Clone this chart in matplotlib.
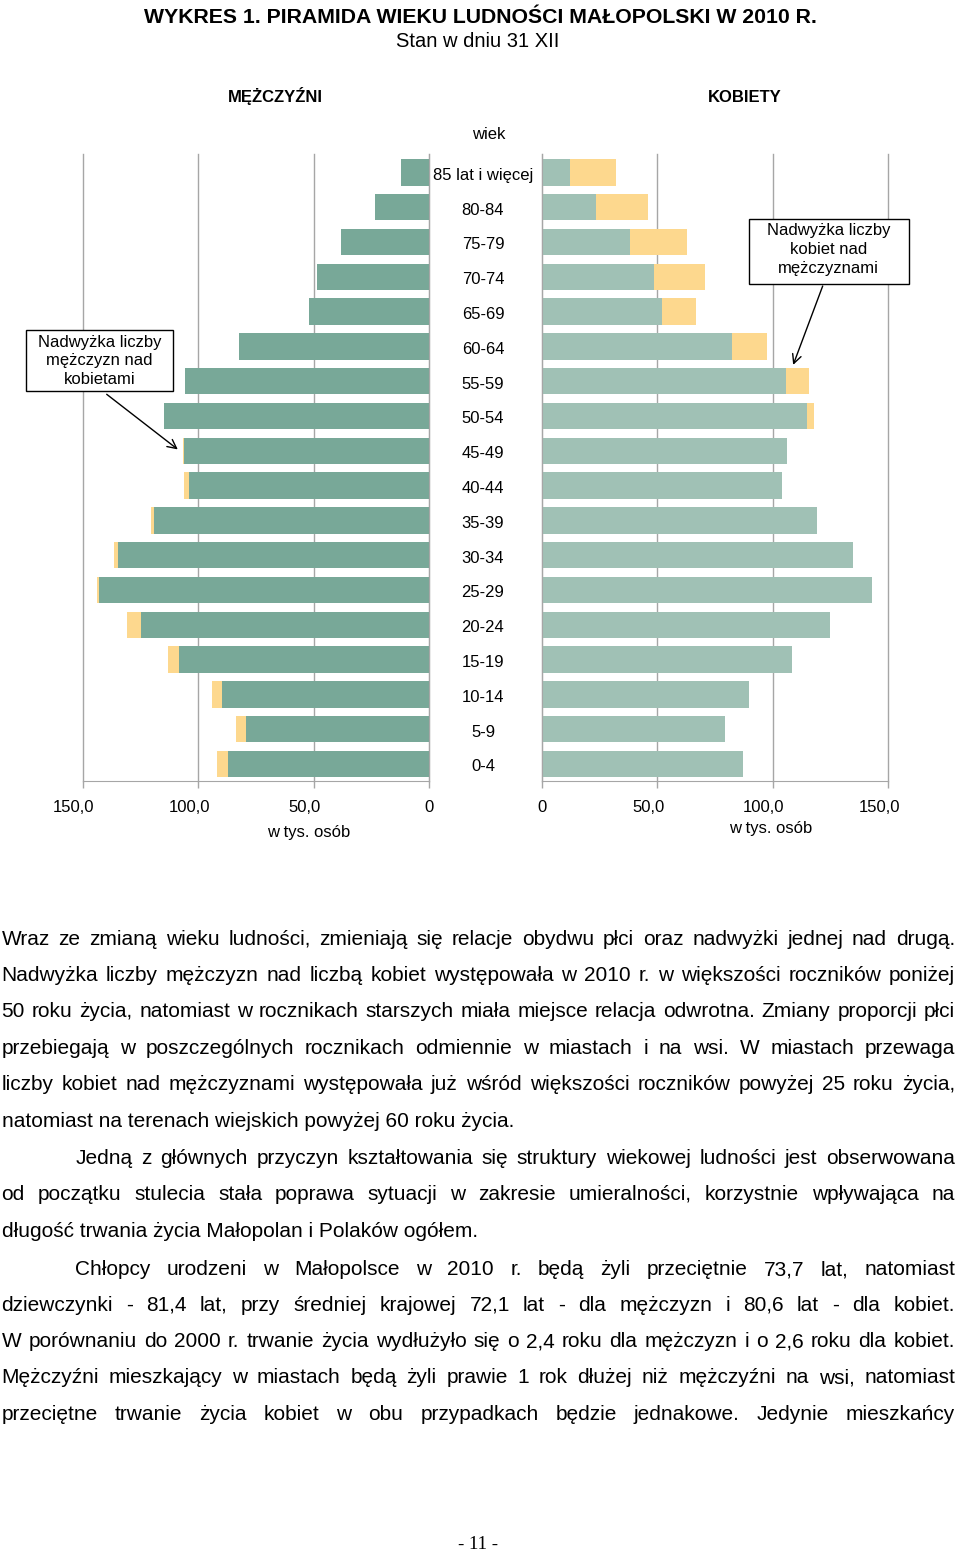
import numpy as np
import matplotlib
matplotlib.use("Agg")
import matplotlib.pyplot as plt
from matplotlib import transforms
from matplotlib.patches import Rectangle

# ---------------- data ----------------
age_groups = ["85 lat i więcej", "80-84", "75-79", "70-74", "65-69", "60-64",
              "55-59", "50-54", "45-49", "40-44", "35-39", "30-34", "25-29",
              "20-24", "15-19", "10-14", "5-9", "0-4"]
men = [12.3, 23.2, 38.2, 48.6, 51.9, 82.1, 105.5, 115.0, 106.6, 106.2,
       120.5, 136.4, 143.7, 130.7, 113.0, 93.9, 83.5, 91.8]
women = [32.0, 45.7, 62.9, 70.6, 66.5, 97.3, 115.7, 117.7, 106.1, 104.0,
         119.2, 134.9, 143.1, 124.7, 108.2, 89.7, 79.4, 86.9]
x_ticks = [0, 50, 100, 150]
x_tick_labels = ["0", "50,0", "100,0", "150,0"]

title = "WYKRES 1. PIRAMIDA WIEKU LUDNOŚCI MAŁOPOLSKI W 2010 R."
subtitle = "Stan w dniu 31 XII"
left_header = "MĘŻCZYŹNI"
right_header = "KOBIETY"
axis_title = "wiek"
unit_label = "w tys. osób"
note_men = ["Nadwyżka liczby", "mężczyzn nad", "kobietami"]
note_women = ["Nadwyżka liczby", "kobiet nad", "mężczyznami"]

body_lines = [
    ("Wraz ze zmianą wieku ludności, zmieniają się relacje obydwu płci oraz nadwyżki jednej nad drugą.", False, True),
    ("Nadwyżka liczby mężczyzn nad liczbą kobiet występowała w 2010 r. w większości roczników poniżej", False, True),
    ("50 roku życia, natomiast w rocznikach starszych miała miejsce relacja odwrotna. Zmiany proporcji płci", False, True),
    ("przebiegają w poszczególnych rocznikach odmiennie w miastach i na wsi. W miastach przewaga", False, True),
    ("liczby kobiet nad mężczyznami występowała już wśród większości roczników powyżej 25 roku życia,", False, True),
    ("natomiast na terenach wiejskich powyżej 60 roku życia.", False, False),
    ("Jedną z głównych przyczyn kształtowania się struktury wiekowej ludności jest obserwowana", True, True),
    ("od początku stulecia stała poprawa sytuacji w zakresie umieralności, korzystnie wpływająca na", False, True),
    ("długość trwania życia Małopolan i Polaków ogółem.", False, False),
    ("Chłopcy urodzeni w Małopolsce w 2010 r. będą żyli przeciętnie 73,7 lat, natomiast", True, True),
    ("dziewczynki - 81,4 lat, przy średniej krajowej 72,1 lat - dla mężczyzn i 80,6 lat - dla kobiet.", False, True),
    ("W porównaniu do 2000 r. trwanie życia wydłużyło się o 2,4 roku dla mężczyzn i o 2,6 roku dla kobiet.", False, True),
    ("Mężczyźni mieszkający w miastach będą żyli prawie 1 rok dłużej niż mężczyźni na wsi, natomiast", False, True),
    ("przeciętne trwanie życia kobiet w obu przypadkach będzie jednakowe. Jedynie mieszkańcy", False, True),
]
body_baselines = [944.7, 980.7, 1016.7, 1053.5, 1090.2, 1126.8,
                  1164, 1200, 1236.7, 1275, 1310.7, 1347.3, 1383.3, 1420]
page_number = "- 11 -"

# ---------------- style ----------------
FONT = ["Liberation Sans", "DejaVu Sans"]
GREEN_L = "#78a898"
GREEN_R = "#a0c1b5"
YELLOW = "#fdd88e"
GRID = "#a6a6a6"
W, H = 960, 1551
plt.rcParams["font.family"] = FONT

fig = plt.figure(figsize=(W / 100, H / 100), dpi=100)
fig.patch.set_facecolor("white")


def fx(x):
    return x / W


def fy(y):
    return 1 - y / H


top, bottom = 154, 780.7
axL = fig.add_axes([fx(82.7), fy(bottom), (429 - 82.7) / W, (bottom - top) / H])
axR = fig.add_axes([fx(542), fy(bottom), (888.3 - 542) / W, (bottom - top) / H])

men_a = np.array(men)
women_a = np.array(women)
common = np.minimum(men_a, women_a)
exc_m = np.maximum(men_a - women_a, 0)
exc_w = np.maximum(women_a - men_a, 0)
ypos = np.arange(len(age_groups))
bh = 0.76

axL.barh(ypos, common, height=bh, color=GREEN_L, zorder=2)
axL.barh(ypos, exc_m, left=common, height=bh, color=YELLOW, zorder=2)
axR.barh(ypos, common, height=bh, color=GREEN_R, zorder=2)
axR.barh(ypos, exc_w, left=common, height=bh, color=YELLOW, zorder=2)

axL.set_xlim(150, 0)
axR.set_xlim(0, 150)
for ax in (axL, axR):
    ax.set_ylim(17.48, -0.53)
    ax.set_xticks(x_ticks)
    ax.set_yticks([])
    ax.xaxis.grid(True, color=GRID, lw=1.0, zorder=0)
    ax.set_axisbelow(True)
    ax.tick_params(axis="x", direction="out", length=5, color=GRID,
                   labelbottom=False, width=1)
    ax.spines["top"].set_visible(False)
    ax.spines["bottom"].set_color(GRID)
    ax.patch.set_alpha(0)
    for gl in ax.get_xgridlines():
        gl.set_clip_on(False)
axL.spines["left"].set_visible(False)
axL.spines["right"].set_color(GRID)
axR.spines["right"].set_visible(False)
axR.spines["left"].set_color(GRID)

# overlay in pixel coordinates
ov = fig.add_axes([0, 0, 1, 1])
ov.set_xlim(0, W)
ov.set_ylim(H, 0)
ov.axis("off")

renderer = fig.canvas.get_renderer()


def text_width(s, **kw):
    t = ov.text(0, 0, s, **kw)
    w = t.get_window_extent(renderer).width
    t.remove()
    return w


def fit_size(s, target, weight="normal", base=14.0):
    return base * target / text_width(s, fontsize=base, fontweight=weight)


# titles
ts = fit_size(title, 674, "bold")
ov.text(480, 22.7, title, fontsize=ts, fontweight="bold", ha="center", va="baseline")
ov.text(478, 47, subtitle, fontsize=14.5, ha="center", va="baseline")
ov.text(275.5, 101.7, left_header, fontsize=12, fontweight="bold", ha="center", va="baseline")
ov.text(745, 101.7, right_header, fontsize=12, fontweight="bold", ha="center", va="baseline")
ov.text(489, 139.3, axis_title, fontsize=12, ha="center", va="baseline")

# category labels
blend = transforms.blended_transform_factory(ov.transData, axL.transData)
for i, lab in enumerate(age_groups):
    ov.text(483, ypos[i] + 0.04, lab, fontsize=12, ha="center", va="center_baseline",
            transform=blend)

# tick labels
for ax, bl in ((axL, 811.7), (axR, 811.7)):
    bt = transforms.blended_transform_factory(ax.transData, ov.transData)
    for v, lab in zip(x_ticks, x_tick_labels):
        off = 0 if lab == "0" else -9
        tr = bt + transforms.ScaledTranslation(off / 100, 0, fig.dpi_scale_trans)
        ov.text(v, bl, lab, fontsize=12, ha="center", va="baseline", transform=tr)

ov.text(308.7, 836.7, unit_label, fontsize=12, ha="center", va="baseline")
ov.text(770.3, 833.0, unit_label, fontsize=12, ha="center", va="baseline")

# annotation boxes
ov.add_patch(Rectangle((26, 330), 147.3, 60.7, fill=True, facecolor="white",
                       edgecolor="black", lw=1.0, zorder=5))
for s, b in zip(note_men, [346.7, 365.0, 384.3]):
    ov.text(99.5, b, s, fontsize=12, ha="center", va="baseline", zorder=6)
ov.add_patch(Rectangle((749.3, 218.7), 159.7, 65.6, fill=True, facecolor="white",
                       edgecolor="black", lw=1.0, zorder=5))
for s, b in zip(note_women, [235.0, 254.3, 273.3]):
    ov.text(828.7, b, s, fontsize=12, ha="center", va="baseline", zorder=6)

ap = dict(arrowstyle="->", color="black", lw=1.0, shrinkA=0, shrinkB=0,
          mutation_scale=16)
ov.annotate("", xy=(108.8, 7.96), xycoords=axL.transData,
            xytext=(106.7, 394.3), textcoords=ov.transData, arrowprops=ap)
ov.annotate("", xy=(108.8, 5.53), xycoords=axR.transData,
            xytext=(822.7, 286.0), textcoords=ov.transData, arrowprops=ap)

# body text (justified)
bfs = fit_size(body_lines[5][0], 516 - 1.5)
X0, X1, INDENT = 1.5, 955.0, 74.0
for (line, indent, justify), bl in zip(body_lines, body_baselines):
    x0 = X0 + (INDENT if indent else 0)
    if not justify:
        ov.text(x0, bl, line, fontsize=bfs, ha="left", va="baseline")
        continue
    words = line.split(" ")
    widths = [text_width(w, fontsize=bfs) for w in words]
    gap = (X1 - x0 - sum(widths)) / (len(words) - 1)
    x = x0
    for w, wd in zip(words, widths):
        ov.text(x, bl, w, fontsize=bfs, ha="left", va="baseline")
        x += wd + gap

ov.text(478, 1549, page_number, fontsize=13.5, ha="center", va="baseline",
        family=["Liberation Serif", "DejaVu Serif"])

fig.savefig("out.png", dpi=100, facecolor="white")
